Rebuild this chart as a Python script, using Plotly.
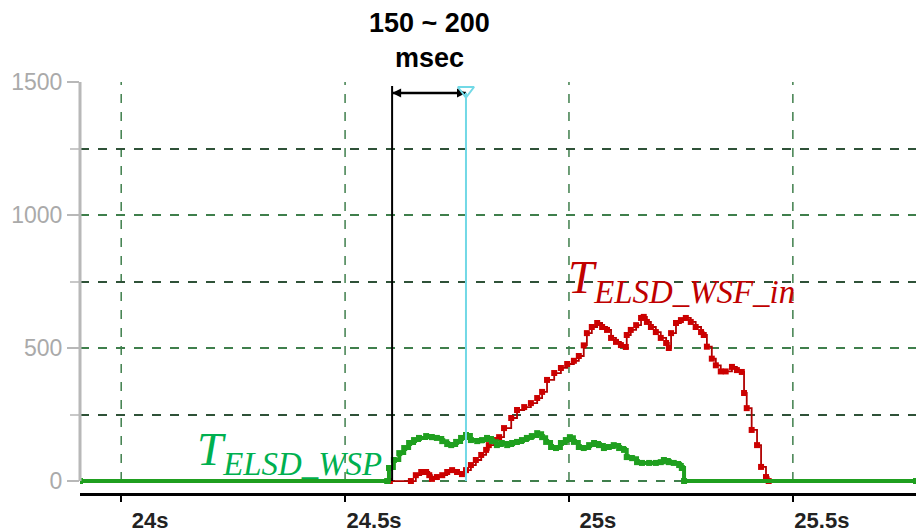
import plotly.graph_objects as go

# ---- data (time in seconds, value in msec-scale units) ----
t_red = [24.600, 24.647, 24.658, 24.670, 24.681, 24.688, 24.694, 24.705, 24.717, 24.728,
         24.739, 24.750, 24.761, 24.770, 24.781, 24.792, 24.804, 24.815, 24.821, 24.833,
         24.844, 24.855, 24.871, 24.884, 24.900, 24.915, 24.929, 24.940, 24.951, 24.967,
         24.982, 24.996, 25.011, 25.022, 25.033, 25.040, 25.051, 25.063, 25.074, 25.085,
         25.094, 25.105, 25.116, 25.127, 25.129, 25.138, 25.150, 25.161, 25.167, 25.174,
         25.183, 25.194, 25.205, 25.217, 25.223, 25.228, 25.239, 25.250, 25.261, 25.272,
         25.283, 25.295, 25.301, 25.308, 25.319, 25.328, 25.339, 25.350, 25.364, 25.375,
         25.386, 25.391, 25.397, 25.408, 25.420, 25.429, 25.440, 25.446]
v_red = [0, 0, 22, 34, 34, 22, 8, 15, 22, 34,
         41, 34, 26, 41, 60, 79, 98, 117, 135, 154,
         165, 199, 237, 267, 278, 293, 312, 335, 380, 406,
         425, 440, 452, 470, 510, 556, 579, 594, 579, 568,
         538, 523, 511, 504, 549, 568, 586, 613, 617, 598,
         579, 560, 538, 519, 500, 556, 594, 605, 613, 598,
         579, 560, 549, 505, 460, 435, 412, 412, 429, 417,
         410, 331, 274, 192, 135, 53, 15, 0]

t_green = [23.908, 24.594, 24.598, 24.609, 24.621, 24.632, 24.643, 24.654, 24.665, 24.681,
           24.694, 24.705, 24.717, 24.728, 24.737, 24.748, 24.759, 24.770, 24.781, 24.795,
           24.806, 24.817, 24.828, 24.839, 24.850, 24.862, 24.873, 24.884, 24.895, 24.906,
           24.917, 24.929, 24.940, 24.949, 24.960, 24.971, 24.982, 24.993, 25.002, 25.011,
           25.022, 25.033, 25.045, 25.056, 25.067, 25.078, 25.089, 25.100, 25.112, 25.123,
           25.129, 25.141, 25.152, 25.163, 25.179, 25.194, 25.205, 25.212, 25.223, 25.234,
           25.246, 25.252, 25.257, 25.775]
v_green = [0, 0, 49, 79, 105, 124, 143, 154, 162, 169,
           165, 162, 150, 139, 135, 147, 162, 173, 154, 150,
           154, 162, 150, 135, 143, 135, 143, 147, 154, 162,
           169, 180, 165, 147, 128, 124, 143, 154, 165, 147,
           128, 124, 135, 143, 135, 124, 128, 135, 124, 117,
           90, 86, 71, 68, 68, 68, 71, 79, 71, 68,
           60, 49, 0, 0]

x_ticks = [24.0, 24.5, 25.0, 25.5]
x_tick_labels = ["24s", "24.5s", "25s", "25.5s"]
y_ticks = [0, 500, 1000, 1500]
y_tick_labels = ["0", "500", "1000", "1500"]

t_start = 24.605   # black marker line
t_end = 24.770     # cyan marker line
arrow_level = 1459
window_text = "150 ~ 200<br>msec"
label_red = "<i>T</i><sub><i>ELSD_WSF_in</i></sub>"
label_green = "<i>T</i><sub><i>ELSD_WSP</i></sub>"

RED_LINE = "#b00000"
RED_MARK = "#cc0000"
GREEN = "#1f9f1f"
CYAN = "#72d9e6"
GRID_MAJ = "#3f7f4c"
GRID_MIN = "#2f5238"

fig = go.Figure()

fig.add_trace(go.Scatter(
    x=t_red, y=v_red, mode="lines+markers",
    line=dict(color=RED_LINE, width=1.8, shape="hv"),
    marker=dict(symbol="square", size=6, color=RED_MARK),
    hoverinfo="skip"))

fig.add_trace(go.Scatter(
    x=t_green, y=v_green, mode="lines+markers",
    line=dict(color=GREEN, width=4, shape="hv"),
    marker=dict(symbol="square", size=6, color=GREEN),
    hoverinfo="skip"))

# double-headed arrow between the two time markers
fig.add_trace(go.Scatter(
    x=[t_start, t_end], y=[arrow_level, arrow_level], mode="lines+markers",
    cliponaxis=False,
    line=dict(color="black", width=2.5),
    marker=dict(symbol=["arrow-left", "arrow-right"], size=9, color="black"),
    hoverinfo="skip"))

# cyan triangle marker at the top of the cyan line
fig.add_trace(go.Scatter(
    x=[t_end], y=[1468], mode="markers", cliponaxis=False,
    marker=dict(symbol="triangle-down-open", size=14, color=CYAN,
                line=dict(color=CYAN, width=2)),
    hoverinfo="skip"))

shapes = []
# vertical dashed gridlines from 0 to 1500
for xv in x_ticks:
    shapes.append(dict(type="line", xref="x", yref="y", x0=xv, x1=xv, y0=0, y1=1500,
                       line=dict(color=GRID_MAJ, width=1.5, dash="dash"), layer="below"))
# gray y axis line (0 .. 1500)
shapes.append(dict(type="line", xref="paper", yref="y", x0=0, x1=0, y0=0, y1=1500,
                   line=dict(color="#b8b8b8", width=3)))
# black and cyan time markers
shapes.append(dict(type="line", xref="x", yref="y", x0=t_start, x1=t_start, y0=0, y1=1485,
                   line=dict(color="black", width=2)))
shapes.append(dict(type="line", xref="x", yref="y", x0=t_end, x1=t_end, y0=0, y1=1460,
                   line=dict(color=CYAN, width=2)))

annotations = [
    dict(x=(t_start + t_end) / 2, y=1.185, xref="x", yref="paper",
         text="<b>" + window_text + "</b>", showarrow=False,
         font=dict(family="Liberation Sans", size=27, color="black")),
    dict(x=24.994, y=752, xref="x", yref="y", xanchor="left", yanchor="middle",
         text=label_red, showarrow=False,
         font=dict(family="Liberation Serif", size=47, color="#c00000")),
    dict(x=24.165, y=108, xref="x", yref="y", xanchor="left", yanchor="middle",
         text=label_green, showarrow=False,
         font=dict(family="Liberation Serif", size=47, color="#00b050")),
]

fig.update_layout(
    width=916, height=532,
    margin=dict(l=80, r=0, t=82, b=39),
    paper_bgcolor="white", plot_bgcolor="white",
    showlegend=False,
    shapes=shapes, annotations=annotations,
    xaxis=dict(range=[23.908, 25.775], showgrid=False, zeroline=False,
               showline=True, linecolor="black", linewidth=3,
               ticks="outside", ticklen=6, tickwidth=2, tickcolor="black",
               tickvals=x_ticks, ticktext=x_tick_labels, ticklabelshift=29,
               tickfont=dict(family="Liberation Sans", size=22, color="#222222", weight="bold")),
    yaxis=dict(range=[-45, 1500], showgrid=True, gridcolor=GRID_MAJ, griddash="dash",
               gridwidth=1.5, zeroline=False, showline=False,
               tickvals=y_ticks, ticktext=y_tick_labels,
               ticks="outside", ticklen=12, tickwidth=2, tickcolor="#b8b8b8",
               tickfont=dict(family="Liberation Sans", size=23, color="#aaaaaa"),
               minor=dict(dtick=250, tick0=0, showgrid=True, gridcolor=GRID_MIN,
                          griddash="dash", gridwidth=1.5, ticks="outside", ticklen=9,
                          tickcolor="#c8c8c8", tickwidth=1.5)),
)

fig.write_html("out.html")
